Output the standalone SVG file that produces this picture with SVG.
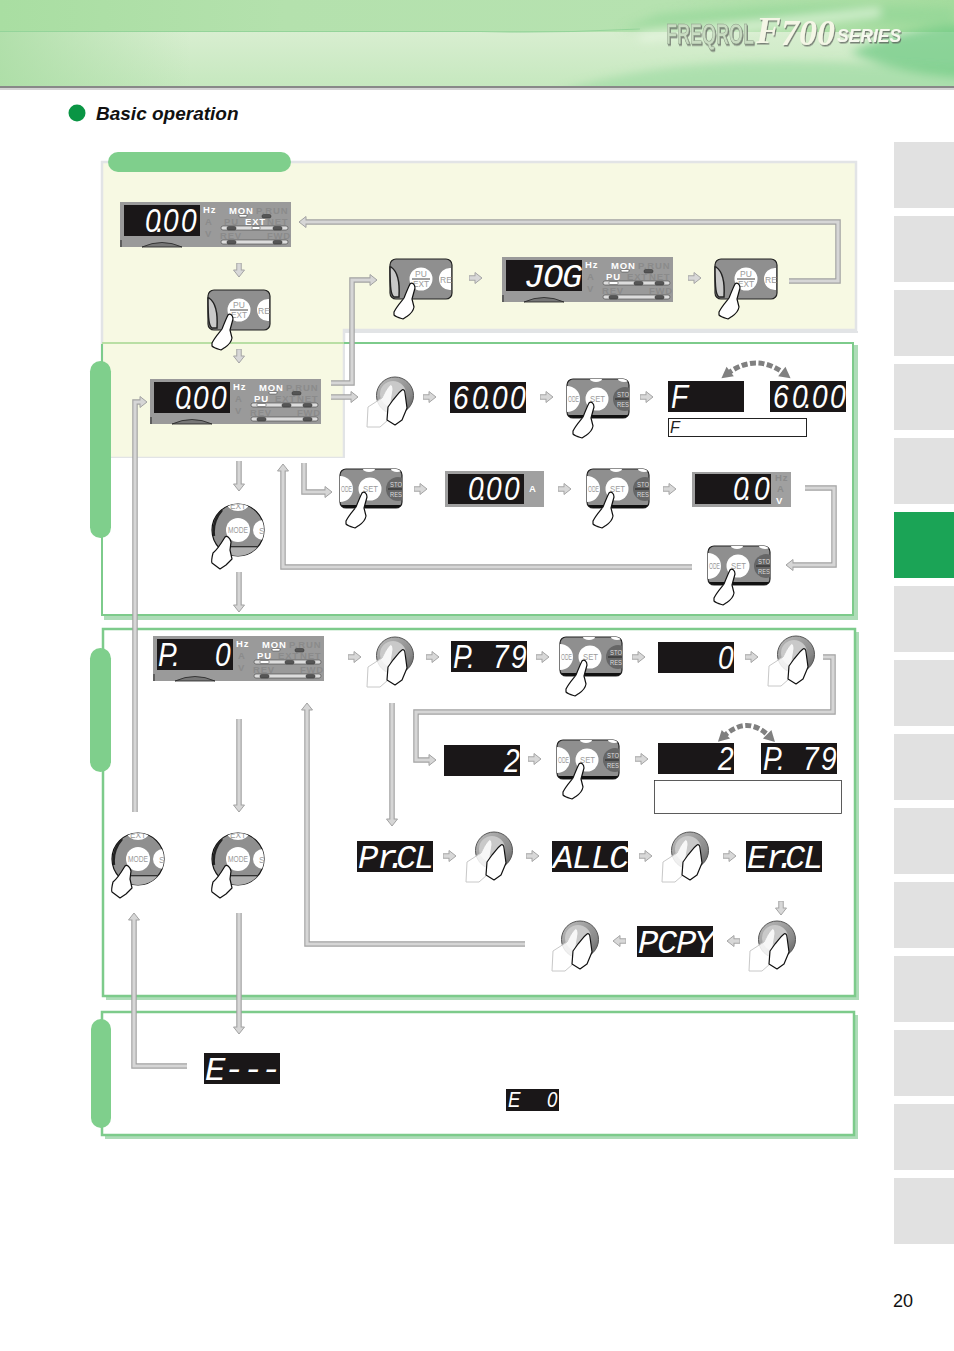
<svg xmlns="http://www.w3.org/2000/svg" width="954" height="1351" viewBox="0 0 954 1351">
<style>
text{font-family:"Liberation Sans",Arial,sans-serif}
.tab{fill:#e1e1e1}
.pill{fill:#7fcf8c}
.pb{fill:#fff;stroke:#7dcb8b;stroke-width:2.5}
.sh{fill:#aedcb8}
.seg{font-family:"Liberation Mono",monospace;font-style:italic;font-size:34px;fill:#fff}
.dg{font-family:"Liberation Sans",Arial,sans-serif;font-style:italic;font-size:33px;fill:#fff;transform:scaleX(.85)}
.scr{fill:#1a1718}
.on{fill:#fff;font-weight:700;font-size:9.5px;letter-spacing:.8px}
.off{fill:#8b8b8b;font-weight:700;font-size:9.5px;letter-spacing:.8px}
.ol{fill:none;stroke:#a2a2a2;stroke-width:5.5;marker-end:url(#h)}
.il{fill:none;stroke:#d6d6d6;stroke-width:3.2}
.sl{fill:none;stroke:#a5a5a5;stroke-width:5.5;marker-end:url(#hs)}
.si{fill:none;stroke:#d8d8d8;stroke-width:3.5}
.ld{fill:#555;stroke:#333;stroke-width:.5}
.lon{fill:#fff;stroke:#333;stroke-width:.5}
.bt{fill:#9a9a9a;font-size:8.5px}
.hand{fill:#fff;stroke:#111;stroke-width:1.2;stroke-linejoin:round}
</style>
<defs>
<linearGradient id="hl" x1="0" y1="0" x2="1" y2="0"><stop offset="0" stop-color="#a9dea2"/><stop offset=".3" stop-color="#b4e1ad"/><stop offset=".7" stop-color="#b6e2b0"/><stop offset="1" stop-color="#a5dc9e"/></linearGradient>
<linearGradient id="hm" x1="0" y1="0" x2="0" y2="1"><stop offset="0" stop-color="#d8eed0"/><stop offset="1" stop-color="#c6e8bf"/></linearGradient>
<linearGradient id="hf" x1="0" y1="0" x2="1" y2="0"><stop offset="0" stop-color="#a8dca2" stop-opacity=".8"/><stop offset=".2" stop-color="#a8dca2" stop-opacity="0"/></linearGradient>
<linearGradient id="dg" x1="0" y1="0" x2="1" y2="1"><stop offset="0" stop-color="#bdbdbd"/><stop offset=".7" stop-color="#888"/><stop offset="1" stop-color="#555"/></linearGradient>
<filter id="bl" x="-20%" y="-100%" width="140%" height="300%"><feGaussianBlur stdDeviation="5"/></filter>
<filter id="ls" x="-5%" y="-5%" width="110%" height="115%"><feDropShadow dx="1" dy="1.5" stdDeviation=".6" flood-color="#555" flood-opacity=".7"/></filter>
<clipPath id="hc0"><rect width="954" height="86"/></clipPath>
<marker id="h" markerUnits="userSpaceOnUse" markerWidth="10" markerHeight="16" refX="1" refY="8" orient="auto"><path d="M1 2.500L8 8L1 13.500z" fill="#d6d6d6" stroke="#a2a2a2" stroke-width="1"/></marker>
<marker id="hs" markerUnits="userSpaceOnUse" markerWidth="10" markerHeight="14" refX="1" refY="7" orient="auto"><path d="M1 1.500L8 7L1 12.500z" fill="#d8d8d8" stroke="#a5a5a5" stroke-width="1"/></marker>
<marker id="hc" markerUnits="userSpaceOnUse" markerWidth="14" markerHeight="14" refX="5" refY="7" orient="auto-start-reverse"><path d="M1 1L12 7L1 13z" fill="#808080"/></marker>
<clipPath id="cb"><rect x="0" y="0" width="62" height="39" rx="6"/></clipPath>
<clipPath id="cm"><circle cx="0" cy="0" r="26"/></clipPath>
<rect id="scr" class="scr" width="76" height="31"/>
<path id="hnd" class="hand" d="M22 24C20 28 18 33 16 38C13 42 9 46 6 52L6 55C8 57 12 58 15 59L18 57C21 55 25 53 26 47L24 39L27 28C27 24 24 22 22 24Z"/>
<g id="pnl">
<rect width="171" height="45" fill="#9a9a9a"/>
<rect class="scr" x="4" y="3" width="76" height="31"/>
<path d="M22 45Q42 36 62 45z" fill="#777" stroke="#222" stroke-width=".8"/>
<path d="M1 45V38" stroke="#222" fill="none"/>
<rect x="101" y="24" width="67" height="4" rx="2" fill="#ddd" stroke="#444" stroke-width=".6"/>
<rect x="101" y="38" width="67" height="4" rx="2" fill="#ddd" stroke="#444" stroke-width=".6"/>
<rect class="ld" x="107" y="38.500" width="9" height="3.500" rx="1.500"/><rect class="ld" x="153" y="38.500" width="9" height="3.500" rx="1.500"/>
<rect class="ld" x="153" y="24.500" width="9" height="3.500" rx="1.500"/>
<rect class="lon" x="119" y="12.500" width="8" height="2.500" rx="1"/><rect class="ld" x="142" y="12.500" width="9" height="3.500" rx="1.500"/>
<text class="on" x="83" y="11">Hz</text><text class="off" x="85" y="23">A</text><text class="off" x="85" y="35">V</text>
<text class="on" x="109" y="12">MON</text><text class="off" x="136" y="12">P.RUN</text>
<text class="off" x="147" y="23">NET</text><text class="off" x="100" y="37">REV</text><text class="off" x="147" y="37">FWD</text>
</g>
<g id="btnS">
<rect x="0" y="0" width="62" height="39" rx="6" fill="#8f8f8f" stroke="#222" stroke-width="1.2"/>
<g clip-path="url(#cb)">
<rect x="0" y="36" width="62" height="3" fill="#111"/>
<circle cx="0" cy="20" r="13" fill="#fff"/>
<circle cx="30" cy="20" r="11.500" fill="#fff"/>
<circle cx="58" cy="20" r="12" fill="#666"/>
<ellipse cx="29" cy="0" rx="6" ry="3" fill="#fff"/><ellipse cx="57" cy="0" rx="6" ry="3" fill="#fff"/>
<path d="M48 20H62" stroke="#111" stroke-width=".8"/>
<text class="bt" x="1" y="23" textLength="11" lengthAdjust="spacingAndGlyphs">ODE</text>
<text class="bt" x="23" y="23" textLength="15" lengthAdjust="spacingAndGlyphs">SET</text>
<text x="50" y="18" font-size="8" fill="#ddd" textLength="12" lengthAdjust="spacingAndGlyphs">STO</text><text x="50" y="28" font-size="8" fill="#ddd" textLength="12" lengthAdjust="spacingAndGlyphs">RES</text>
</g>
<use href="#hnd"/>
</g>
<g id="btnP">
<rect x="0" y="0" width="62" height="40" rx="6" fill="#8f8f8f" stroke="#222" stroke-width="1.2"/>
<path d="M1 8C7 12 10 22 9 38H4C1 36 0 30 0 8Z" fill="#c9c9c9" stroke="#222" stroke-width="1.500"/>
<circle cx="31" cy="20" r="11.500" fill="#fff"/>
<path d="M49 20A11 11 0 0 1 61 9V31A11 11 0 0 1 49 20Z" fill="#fff"/>
<path d="M22 20H40" stroke="#111" stroke-width=".8"/>
<text class="bt" x="25" y="18">PU</text><text class="bt" x="23" y="28" textLength="16" lengthAdjust="spacingAndGlyphs">EXT</text><text class="bt" x="50" y="24">RE</text>
<g transform="translate(-2,1)"><use href="#hnd"/></g>
</g>
<g id="btnM">
<circle r="26" fill="#8f8f8f" stroke="#111" stroke-width="1.200"/>
<g clip-path="url(#cm)">
<ellipse cx="0" cy="-27" rx="11" ry="8" fill="#fff"/>
<circle cx="25" cy="0" r="10" fill="#fff"/>
<rect x="-26" y="16" width="52" height="1.500" fill="#333"/><rect x="-26" y="17.500" width="52" height="9" fill="#b0b0b0"/>
<path d="M-24 6Q-26 -8 -16 -20" stroke="#222" stroke-width="2.500" fill="none"/>
<circle cx="0" r="12" fill="#fff"/>
<text class="bt" x="-10" y="3" textLength="20" lengthAdjust="spacingAndGlyphs">MODE</text><text class="bt" x="-8" y="-21" textLength="16" lengthAdjust="spacingAndGlyphs">EXT</text><text class="bt" x="21" y="4">S</text>
</g>
<path class="hand" d="M-13 7C-16 12 -20 19 -25 23C-26 27 -27 31 -26 33L-18 39L-12 35L-6 29L-8 20L-7 12C-8 8 -11 5 -13 7Z"/>
</g>
<g id="dial">
<circle cx="29" cy="18.500" r="18.500" fill="url(#dg)" stroke="#555" stroke-width="1"/>
<circle cx="27" cy="17" r="13" fill="#c9c9c9"/>
<path d="M24 8C20 12 18 17 16 21L2 30L1 50L14 50L22 43L27 13C27 8 25 7 24 8Z" fill="#fff" fill-opacity=".85" stroke="#c8c8c8" stroke-width="1"/>
<path class="hand" d="M36 13C32 16 30 20 27 23L22 30L21 43L29 48L36 43L41 31L39 16C39 13 37 12 36 13Z"/>
</g>
</defs>

<g id="header">
<rect width="954" height="32" fill="url(#hl)"/>
<rect y="32" width="954" height="54" fill="url(#hm)"/>
<rect y="32" width="954" height="54" fill="url(#hf)"/>
<path d="M0 31.500H480Q560 33 640 29" stroke="#94d49a" stroke-width="1.200" fill="none"/>
<g clip-path="url(#hc0)"><g filter="url(#bl)">
<path d="M620 30Q780 12 954 28V8Q800 0 660 14Z" fill="#8fd694" opacity=".6"/>
<path d="M560 92Q680 50 900 66T970 60V100H560Z" fill="#9ad9a0" opacity=".6"/>
<path d="M850 52Q910 25 970 25V78Q900 75 850 52Z" fill="#6cc982" opacity=".7"/>
<path d="M640 38Q760 25 880 12" stroke="#e6f6e0" stroke-width="8" fill="none" opacity=".8"/>
</g></g>
<rect y="86" width="954" height="2" fill="#888"/><rect y="88" width="954" height="2" fill="#d4d4d4"/>
<g filter="url(#ls)">
<text transform="translate(666,44) scale(.6,1)" font-weight="700" font-size="30" fill="#c9dcc2" stroke="#8a9a86" stroke-width=".6">FREQROL</text>
<text x="756" y="43" style="font-family:'Liberation Serif',serif" font-weight="700" font-style="italic" font-size="37" fill="#f4f6e6">F</text>
<text x="781" y="45" style="font-family:'Liberation Serif',serif" font-weight="700" font-style="italic" font-size="36" fill="#f4f6e6">700</text>
<text x="837" y="42" font-weight="700" font-style="italic" font-size="17.500" fill="#f6f8ee">SERIES</text>
</g>
</g>

<g id="title">
<circle cx="77" cy="113" r="8.500" fill="#0a9544"/>
<text x="96" y="120" font-weight="700" font-style="italic" font-size="19" fill="#111">Basic operation</text>
</g>

<g id="sidebar">
<rect class="tab" x="894" y="142" width="60" height="66"/><rect class="tab" x="894" y="216" width="60" height="66"/><rect class="tab" x="894" y="290" width="60" height="66"/><rect class="tab" x="894" y="364" width="60" height="66"/><rect class="tab" x="894" y="438" width="60" height="66"/>
<rect x="894" y="512" width="60" height="66" fill="#1ba456"/>
<rect class="tab" x="894" y="586" width="60" height="66"/><rect class="tab" x="894" y="660" width="60" height="66"/><rect class="tab" x="894" y="734" width="60" height="66"/><rect class="tab" x="894" y="808" width="60" height="66"/><rect class="tab" x="894" y="882" width="60" height="66"/><rect class="tab" x="894" y="956" width="60" height="66"/><rect class="tab" x="894" y="1030" width="60" height="66"/><rect class="tab" x="894" y="1104" width="60" height="66"/><rect class="tab" x="894" y="1178" width="60" height="66"/>
</g>
<text id="pageno" x="893" y="1307" font-size="18" fill="#111">20</text>

<g id="panels">
<path d="M102 162H856V330H344V458H102Z" fill="#f7f9e3" stroke="#e2e4e6" stroke-width="2.500"/>
<rect x="344" y="331" width="514" height="2" fill="#e2e4e6"/>
<rect class="sh" x="104" y="616" width="753" height="4"/><rect class="sh" x="854" y="345" width="4" height="275"/>
<path d="M345 344H853V615H102V458H345Z" fill="#fff"/>
<path d="M344 343H853V615H102V344" fill="none" stroke="#7dcb8b" stroke-width="2"/>
<path d="M102 343H344" stroke="#b9dfa4" stroke-width="2"/>
<rect class="sh" x="106" y="996" width="753" height="4"/><rect class="sh" x="855" y="632" width="4" height="368"/>
<rect class="pb" x="103" y="629" width="752" height="367"/>
<rect class="sh" x="105" y="1135" width="753" height="4"/><rect class="sh" x="854" y="1015" width="4" height="124"/>
<rect class="pb" x="102" y="1012" width="752" height="123"/>
<rect class="pill" x="108" y="152" width="183" height="20" rx="10"/>
<rect class="pill" x="90" y="361" width="21" height="177" rx="10.500"/>
<rect class="pill" x="90" y="648" width="21" height="124" rx="10.500"/>
<rect class="pill" x="91" y="1019" width="20" height="109" rx="10"/>
</g>

<g id="connectors">
<path class="ol" d="M789 281H838V222H306"/><path class="il" d="M789 281H838V222H305"/>
<path class="ol" d="M331 383H352V280H370"/><path class="il" d="M331 383H352V280H371"/>
<path class="ol" d="M331 397H351"/><path class="il" d="M331 397H352"/>
<path class="ol" d="M239 461V484"/><path class="il" d="M239 461V485"/>
<path class="ol" d="M239 572V605"/><path class="il" d="M239 572V606"/>
<path class="ol" d="M304 463V492H325"/><path class="il" d="M304 463V492H326"/>
<path class="ol" d="M692 567H283V471"/><path class="il" d="M692 567H283V470"/>
<path class="ol" d="M805 488H834V565H793"/><path class="il" d="M805 488H834V565H792"/>
<path class="ol" d="M135 812V402H140"/><path class="il" d="M135 812V402H141"/>
<path class="ol" d="M239 719V805"/><path class="il" d="M239 719V806"/>
<path class="ol" d="M392 703V819"/><path class="il" d="M392 703V820"/>
<path class="ol" d="M823 657H833V712H416V760H429"/><path class="il" d="M823 657H833V712H416V760H430"/>
<path class="ol" d="M525 944H307V710"/><path class="il" d="M525 944H307V709"/>
<path class="ol" d="M239 913V1027"/><path class="il" d="M239 913V1028"/>
<path class="ol" d="M187 1066H134V920"/><path class="il" d="M187 1066H134V919"/>
<path class="sl" d="M469 278H475"/><path class="si" d="M469.500 278H476"/>
<path class="sl" d="M688 278H694"/><path class="si" d="M688.500 278H695"/>
<path class="sl" d="M423 397H429"/><path class="si" d="M423.500 397H430"/>
<path class="sl" d="M540 397H546"/><path class="si" d="M540.500 397H547"/>
<path class="sl" d="M640 397H646"/><path class="si" d="M640.500 397H647"/>
<path class="sl" d="M414 489H420"/><path class="si" d="M414.500 489H421"/>
<path class="sl" d="M558 489H564"/><path class="si" d="M558.500 489H565"/>
<path class="sl" d="M663 489H669"/><path class="si" d="M663.500 489H670"/>
<path class="sl" d="M348 657H354"/><path class="si" d="M348.500 657H355"/>
<path class="sl" d="M426 657H432"/><path class="si" d="M426.500 657H433"/>
<path class="sl" d="M536 657H542"/><path class="si" d="M536.500 657H543"/>
<path class="sl" d="M632 657H638"/><path class="si" d="M632.500 657H639"/>
<path class="sl" d="M745 657H751"/><path class="si" d="M745.500 657H752"/>
<path class="sl" d="M528 759H534"/><path class="si" d="M528.500 759H535"/>
<path class="sl" d="M635 759H641"/><path class="si" d="M635.500 759H642"/>
<path class="sl" d="M443 856H449"/><path class="si" d="M443.500 856H450"/>
<path class="sl" d="M526 856H532"/><path class="si" d="M526.500 856H533"/>
<path class="sl" d="M639 856H645"/><path class="si" d="M639.500 856H646"/>
<path class="sl" d="M723 856H729"/><path class="si" d="M723.500 856H730"/>
<path class="sl" d="M626 941H620"/><path class="si" d="M625.500 941H619"/>
<path class="sl" d="M740 941H734"/><path class="si" d="M739.500 941H733"/>
<path class="sl" d="M239 263V270"/><path class="si" d="M239 263.500V271"/>
<path class="sl" d="M239 349V356"/><path class="si" d="M239 349.500V357"/>
<path class="sl" d="M781 901V908"/><path class="si" d="M781 901.500V909"/>
<path d="M727 374Q756 352 785 374" fill="none" stroke="#808080" stroke-width="5" stroke-dasharray="6 2.500" marker-start="url(#hc)" marker-end="url(#hc)"/>
<path d="M723 737Q747 714 770 737" fill="none" stroke="#808080" stroke-width="5" stroke-dasharray="6 2.500" marker-start="url(#hc)" marker-end="url(#hc)"/>
</g>

<g id="panel-ext" transform="translate(120,202)"><use href="#pnl"/><rect class="ld" x="107" y="24.500" width="9" height="3.500" rx="1.500"/><rect class="lon" x="132" y="24.500" width="8" height="3" rx="1"/><text class="off" x="104" y="23">PU</text><text class="on" x="125" y="23">EXT</text><text class="dg" x="29.400 42.400 50.600 71.800" y="30">0.00</text></g>
<g id="panel-pu" transform="translate(150,379)"><use href="#pnl"/><rect class="lon" x="107" y="24.500" width="9" height="3" rx="1"/><rect class="ld" x="132" y="24.500" width="9" height="3.500" rx="1.500"/><text class="on" x="104" y="23">PU</text><text class="off" x="125" y="23">EXT</text><text class="dg" x="29.400 42.400 50.600 71.800" y="30">0.00</text></g>
<g id="panel-jog" transform="translate(502,257)"><use href="#pnl"/><rect class="lon" x="107" y="24.500" width="9" height="3" rx="1"/><rect class="ld" x="132" y="24.500" width="9" height="3.500" rx="1.500"/><text class="on" x="104" y="23">PU</text><text class="off" x="125" y="23">EXT</text><text class="seg" x="22 41 60" y="30">JOG</text></g>
<g id="panel-p0" transform="translate(153,636)"><use href="#pnl"/><rect class="lon" x="107" y="24.500" width="9" height="3" rx="1"/><rect class="ld" x="132" y="24.500" width="9" height="3.500" rx="1.500"/><text class="on" x="104" y="23">PU</text><text class="off" x="125" y="23">EXT</text><text class="dg" x="5.900 22.400 30 72.900" y="30">P. 0</text></g>

<g id="press-pu1"><use href="#btnP" x="208" y="290"/></g>
<g id="press-pu2"><use href="#btnP" x="390" y="259"/></g>
<g id="press-pu3"><use href="#btnP" x="715" y="259"/></g>
<g id="press-set1"><use href="#btnS" x="567" y="379"/></g>
<g id="press-set2"><use href="#btnS" x="340" y="469"/></g>
<g id="press-set3"><use href="#btnS" x="587" y="469"/></g>
<g id="press-set4"><use href="#btnS" x="708" y="546"/></g>
<g id="press-set5"><use href="#btnS" x="560" y="637"/></g>
<g id="press-set6"><use href="#btnS" x="557" y="740"/></g>
<g id="press-mode1"><use href="#btnM" x="238" y="530"/></g>
<g id="press-mode2"><use href="#btnM" x="138" y="859"/></g>
<g id="press-mode3"><use href="#btnM" x="238" y="859"/></g>
<g id="dial1"><use href="#dial" x="366" y="377"/></g>
<g id="dial2"><use href="#dial" x="366" y="637"/></g>
<g id="dial3"><use href="#dial" x="767" y="636"/></g>
<g id="dial4"><use href="#dial" x="465" y="832"/></g>
<g id="dial5"><use href="#dial" x="661" y="832"/></g>
<g id="dial6"><use href="#dial" x="551" y="921"/></g>
<g id="dial7"><use href="#dial" x="748" y="921"/></g>

<g id="d-6000a" transform="translate(450,382)"><use href="#scr"/><text class="dg" x="3.500 25.900 40 49.400 70.600" y="27">60.00</text></g>
<g id="d-f" transform="translate(668,381)"><use href="#scr"/><text class="dg" x="3.500" y="27">F</text></g>
<g id="d-6000b" transform="translate(770,381)"><use href="#scr"/><text class="dg" x="3.500 25.900 40 49.400 70.600" y="27">60.00</text></g>
<g id="note-f"><rect x="668.500" y="418.500" width="138" height="18" fill="#fff" stroke="#222"/><text x="670" y="433" font-size="16" font-style="italic" fill="#222">F</text></g>
<g id="d-a" transform="translate(445,471)"><rect width="99" height="36" fill="#a0a0a0"/><rect class="scr" x="3" y="3" width="76" height="30"/><text class="dg" x="27 40 48.200 69.400" y="29">0.00</text><text class="on" x="84" y="21">A</text></g>
<g id="d-v" transform="translate(692,472)"><rect width="99" height="35" fill="#a0a0a0"/><rect class="scr" x="3" y="2" width="76" height="30"/><text class="dg" x="48.200 61.200 72.900" y="28">0.0</text><text class="off" x="83" y="9">Hz</text><text class="off" x="85" y="20">A</text><text class="on" x="84" y="32">V</text></g>
<g id="d-p79" transform="translate(451,641)"><use href="#scr"/><text class="dg" x="2.400 18.800 30 49.400 70.600" y="27">P. 79</text></g>
<g id="d-0" transform="translate(658,642)"><use href="#scr"/><text class="dg" x="70.600" y="27">0</text></g>
<g id="d-2a" transform="translate(444,745)"><use href="#scr"/><text class="dg" x="70.600" y="27">2</text></g>
<g id="d-2b" transform="translate(658,743)"><use href="#scr"/><text class="dg" x="70.600" y="27">2</text></g>
<g id="d-p79b" transform="translate(761,743)"><use href="#scr"/><text class="dg" x="2.400 18.800 30 49.400 70.600" y="27">P. 79</text></g>
<rect id="note-box" x="654.500" y="780.500" width="187" height="33" fill="#fff" stroke="#333" stroke-width=".8"/>
<g id="d-prcl" transform="translate(357,841)"><use href="#scr"/><text class="seg" x="1 20 29 39 57" y="27">Pr.CL</text></g>
<g id="d-allc" transform="translate(552,841)"><use href="#scr"/><text class="seg" x="1 20 39 57" y="27">ALLC</text></g>
<g id="d-ercl" transform="translate(746,841)"><use href="#scr"/><text class="seg" x="1 20 29 39 57" y="27">Er.CL</text></g>
<g id="d-pcpy" transform="translate(637,926)"><use href="#scr"/><text class="seg" x="1 20 39 57" y="27">PCPY</text></g>
<g id="d-err" transform="translate(204,1053)"><use href="#scr"/><text class="seg" x="1 20 39 57" y="27">E---</text></g>
<g id="d-e0" transform="translate(506,1089)"><rect class="scr" width="53" height="22"/><text class="dg" style="font-size:22px" x="2.400 48.200" y="18">E0</text></g>
</svg>
